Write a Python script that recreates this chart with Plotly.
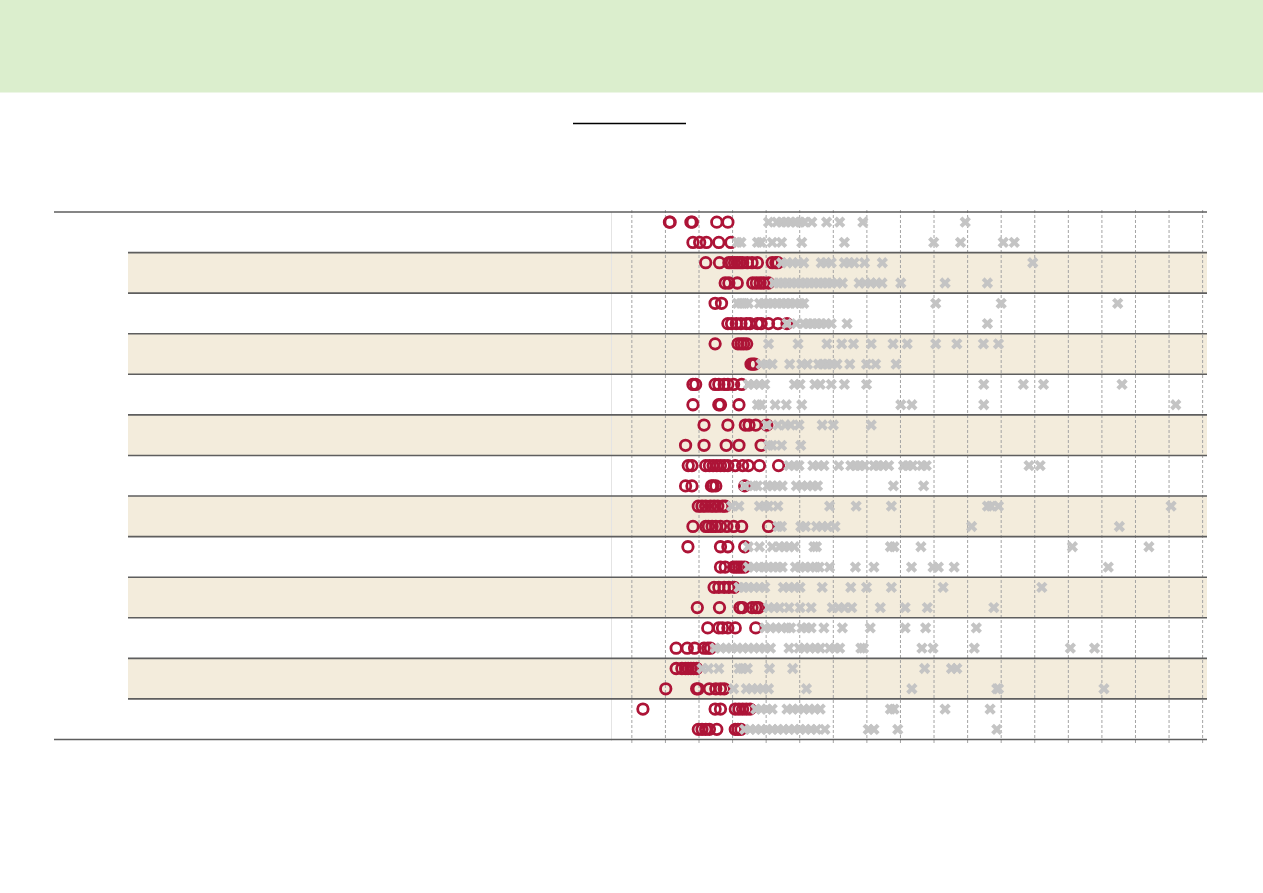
import plotly.graph_objects as go

W, H = 1263, 893

# Values in grid units (gridline k sits at value k)
red_rows = [
    [1.12, 1.14, 1.76, 1.80, 2.53, 2.86],
    [1.82, 2.02, 2.22, 2.59, 2.95],
    [2.20, 2.61, 2.89, 2.97, 3.06, 3.14, 3.22, 3.30, 3.44, 3.58, 3.74, 4.18, 4.29, 4.35],
    [2.78, 2.89, 3.14, 3.60, 3.71, 3.82, 3.93, 4.07],
    [2.48, 2.67],
    [2.86, 2.97, 3.11, 3.25, 3.41, 3.52, 3.74, 3.85, 4.07, 4.35, 4.62],
    [2.48, 3.16, 3.25, 3.33, 3.42],
    [3.55, 3.61, 3.66],
    [1.82, 1.90, 2.48, 2.59, 2.75, 2.86, 3.03, 3.27],
    [1.82, 2.59, 2.64, 3.19],
    [2.15, 2.86, 3.38, 3.49, 3.69, 4.02],
    [1.60, 2.15, 2.81, 3.19, 3.85],
    [1.68, 1.79, 2.20, 2.31, 2.42, 2.53, 2.64, 2.75, 2.86, 3.08, 3.30, 3.47, 3.80, 4.37],
    [1.60, 1.79, 2.37, 2.42, 2.50, 3.36],
    [1.98, 2.09, 2.20, 2.34, 2.45, 2.56, 2.70, 2.78],
    [1.82, 2.20, 2.28, 2.39, 2.50, 2.64, 2.83, 3.03, 3.27, 4.07],
    [1.67, 2.64, 2.86, 3.36],
    [2.64, 2.78, 3.03, 3.11, 3.19, 3.27, 3.36],
    [2.45, 2.59, 2.75, 2.89, 3.05],
    [1.95, 2.61, 3.22, 3.30, 3.58, 3.69, 3.77],
    [2.26, 2.59, 2.70, 2.86, 3.08, 3.69],
    [1.32, 1.65, 1.87, 2.15, 2.26, 2.34],
    [1.32, 1.49, 1.60, 1.68, 1.76, 1.84, 1.93],
    [1.01, 1.93, 1.98, 2.31, 2.50, 2.64, 2.75],
    [0.33, 2.48, 2.64, 3.08, 3.19, 3.30, 3.41, 3.52],
    [1.98, 2.09, 2.20, 2.31, 2.53, 3.08, 3.16, 3.25],
]

gray_rows = [
    [4.07, 4.32, 4.46, 4.59, 4.73, 4.87, 5.01, 5.14, 5.36, 5.80, 6.19, 6.88, 9.93],
    [3.14, 3.25, 3.74, 3.85, 4.18, 4.46, 5.06, 6.33, 8.99, 9.79, 11.06, 11.39],
    [4.46, 4.62, 4.79, 4.95, 5.12, 5.64, 5.78, 5.94, 6.33, 6.47, 6.62, 6.93, 7.46, 11.94],
    [4.24, 4.37, 4.50, 4.63, 4.76, 4.90, 5.03, 5.16, 5.29, 5.42, 5.56, 5.69, 5.82, 5.95,
     6.11, 6.27, 6.77, 6.95, 7.12, 7.28, 7.45, 8.01, 9.33, 10.59],
    [3.14, 3.25, 3.36, 3.47, 3.80, 3.93, 4.06, 4.19, 4.33, 4.46, 4.59, 4.72, 4.85, 5.01,
     5.12, 9.05, 11.00, 14.47],
    [4.62, 4.90, 5.12, 5.25, 5.38, 5.51, 5.64, 5.78, 5.94, 6.41, 10.59],
    [4.07, 4.95, 5.81, 6.25, 6.60, 7.13, 7.78, 8.20, 9.05, 9.68, 10.47, 10.92],
    [3.85, 4.02, 4.18, 4.70, 5.06, 5.23, 5.56, 5.69, 5.82, 5.95, 6.11, 6.49, 6.99, 7.26, 7.87],
    [3.47, 3.63, 3.80, 3.96, 4.84, 5.01, 5.45, 5.61, 5.94, 6.33, 6.99, 10.48, 11.66, 12.26, 14.60],
    [3.74, 3.85, 4.27, 4.60, 5.06, 8.01, 8.34, 10.48, 16.20],
    [4.02, 4.35, 4.57, 4.73, 4.98, 5.67, 6.00, 7.13],
    [4.07, 4.18, 4.46, 5.03],
    [4.68, 4.84, 4.98, 5.39, 5.56, 5.72, 6.16, 6.52, 6.66, 6.79, 6.93, 7.21, 7.34, 7.48,
     7.65, 8.09, 8.22, 8.36, 8.64, 8.77, 11.83, 12.16],
    [3.36, 3.63, 3.74, 4.04, 4.18, 4.33, 4.48, 4.90, 5.06, 5.23, 5.39, 5.53, 7.79, 8.69],
    [2.97, 3.19, 3.80, 3.96, 4.07, 4.35, 5.89, 6.68, 7.73, 10.59, 10.70, 10.92, 16.06],
    [4.35, 4.46, 5.03, 5.17, 5.50, 5.67, 5.83, 6.05, 10.12, 14.52],
    [3.47, 3.80, 4.18, 4.40, 4.54, 4.68, 4.84, 5.42, 5.50, 7.70, 7.81, 8.61, 13.12, 15.40],
    [3.47, 3.63, 3.80, 3.93, 4.07, 4.21, 4.35, 4.48, 4.87, 5.01, 5.17, 5.31, 5.47, 5.58,
     5.89, 6.66, 7.21, 8.33, 8.97, 9.13, 9.60, 14.19],
    [3.19, 3.33, 3.47, 3.63, 3.80, 3.96, 4.51, 4.68, 4.84, 5.01, 5.67, 6.52, 6.99, 7.73, 9.27, 12.21],
    [4.07, 4.24, 4.40, 4.68, 5.01, 5.34, 5.97, 6.16, 6.33, 6.55, 7.40, 8.14, 8.80, 10.78],
    [3.96, 4.13, 4.29, 4.46, 4.62, 4.73, 5.06, 5.20, 5.34, 5.72, 6.27, 7.10, 8.14, 8.75, 10.26],
    [2.48, 2.64, 2.81, 2.97, 3.14, 3.30, 3.47, 3.63, 3.80, 3.96, 4.13, 4.68, 4.98, 5.14,
     5.30, 5.47, 5.61, 5.89, 6.05, 6.19, 6.82, 6.90, 8.64, 8.97, 10.20, 13.06, 13.78],
    [2.09, 2.28, 2.59, 3.19, 3.30, 3.44, 4.10, 4.79, 8.72, 9.52, 9.68],
    [3.03, 3.41, 3.58, 3.74, 3.91, 4.07, 5.20, 8.34, 10.87, 10.92, 14.06],
    [3.69, 3.85, 4.02, 4.18, 4.62, 4.79, 4.95, 5.12, 5.28, 5.45, 5.61, 7.70, 7.81, 9.33, 10.67],
    [3.36, 3.52, 3.69, 3.85, 4.02, 4.18, 4.35, 4.51, 4.68, 4.84, 5.01, 5.17, 5.34, 5.50,
     5.75, 7.04, 7.21, 7.92, 10.87],
]

grid_ticks = list(range(0, 18))

RED = "#ad1437"
GRAY = "#c4c4c4"
BEIGE = "#f3ecdc"
GREEN = "#dbeecd"
RULE = "#5e5e5e"

n_rows = len(red_rows)
n_groups = n_rows // 2

TOP_PX, BOTTOM_PX = 212.0, 739.5


def flatten(rows):
    xs, ys = [], []
    for i, vals in enumerate(rows):
        xs.extend(vals)
        ys.extend([i] * len(vals))
    return xs, ys


rx, ry = flatten(red_rows)
gx, gy = flatten(gray_rows)

fig = go.Figure()
fig.add_trace(go.Scatter(
    x=rx, y=ry, mode="markers", hoverinfo="skip",
    marker=dict(symbol="circle-open", size=10.5, color=RED, line=dict(width=2.8, color=RED)),
))
fig.add_trace(go.Scatter(
    x=gx, y=gy, mode="markers", hoverinfo="skip",
    marker=dict(symbol="x", size=10, color=GRAY, line=dict(width=0)),
))


def px_x(p):
    return p / W


def px_y(p):
    return 1 - p / H


shapes = []
# header band
shapes.append(dict(type="rect", xref="paper", yref="paper", x0=0, x1=1,
                   y0=px_y(92.5), y1=1, fillcolor=GREEN, line=dict(width=0), layer="below"))
# title underline
shapes.append(dict(type="line", xref="paper", yref="paper", x0=px_x(573), x1=px_x(686),
                   y0=px_y(123.5), y1=px_y(123.5), line=dict(color="#000000", width=1.6)))
# alternating bands
for g in range(n_groups):
    if g % 2 == 1:
        shapes.append(dict(type="rect", xref="paper", yref="y", x0=px_x(128), x1=px_x(1207),
                           y0=2 * g - 0.5, y1=2 * g + 1.5, fillcolor=BEIGE,
                           line=dict(width=0), layer="below"))
# left light frame line
shapes.append(dict(type="line", xref="paper", yref="paper", x0=px_x(611.5), x1=px_x(611.5),
                   y0=px_y(741), y1=px_y(TOP_PX), line=dict(color="#e4e4e4", width=1), layer="below"))
# dashed gridlines
for t in grid_ticks:
    shapes.append(dict(type="line", xref="x", yref="paper", x0=t, x1=t,
                       y0=px_y(743), y1=px_y(208),
                       line=dict(color="#a4a4a4", width=1, dash="3px,2px"), layer="below"))
# inner separators
for g in range(1, n_groups):
    yv = 2 * g - 0.5
    shapes.append(dict(type="line", xref="paper", yref="y", x0=px_x(128), x1=px_x(1207),
                       y0=yv, y1=yv, line=dict(color=RULE, width=1.6), layer="below"))
# outer top / bottom rules (paper refs so they are not clipped)
for p in (TOP_PX, BOTTOM_PX):
    shapes.append(dict(type="line", xref="paper", yref="paper", x0=px_x(54), x1=px_x(1207),
                       y0=px_y(p), y1=px_y(p), line=dict(color=RULE, width=1.6), layer="below"))

fig.update_layout(
    width=W, height=H,
    margin=dict(l=0, r=0, t=0, b=0),
    paper_bgcolor="white", plot_bgcolor="rgba(0,0,0,0)",
    showlegend=False,
    shapes=shapes,
    xaxis=dict(domain=[px_x(611), px_x(1207)], range=[-0.621, 17.13], showgrid=False,
               zeroline=False, showticklabels=False, ticks="", showline=False, fixedrange=True),
    yaxis=dict(domain=[px_y(BOTTOM_PX), px_y(TOP_PX)], range=[n_rows - 0.5, -0.5], showgrid=False,
               zeroline=False, showticklabels=False, ticks="", showline=False, fixedrange=True),
)

fig.write_html("out.html", config={"displayModeBar": False})
